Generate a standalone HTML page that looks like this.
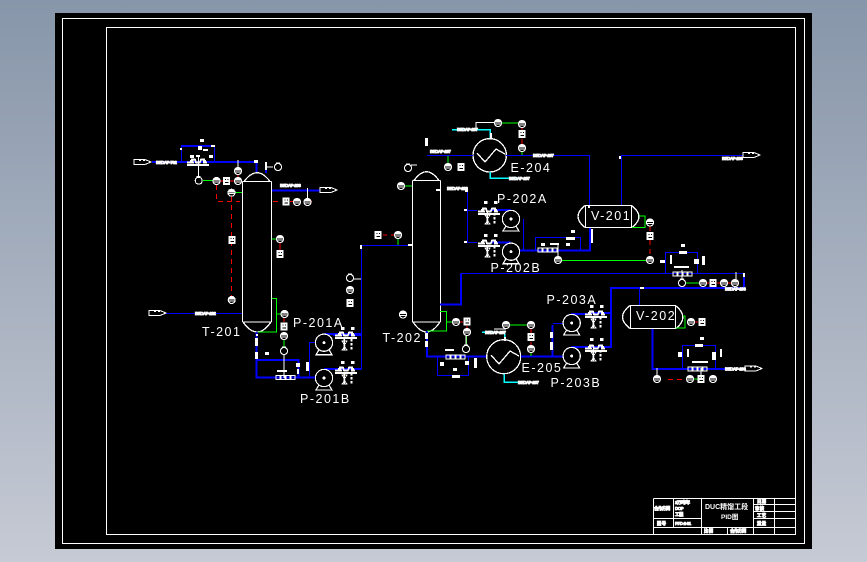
<!DOCTYPE html>
<html><head><meta charset="utf-8"><style>
html,body{margin:0;padding:0;width:867px;height:562px;overflow:hidden;background:#a5afbe}
svg{display:block}
.f{fill:none;stroke-width:1}
.w{stroke:#fff}.b{stroke:#0000ff}.bb{stroke:#0000ff;stroke-width:2}.g{stroke:#00ff00}.r{stroke:#ff0000}.c{stroke:#00ffff;stroke-width:1.5}
.d{stroke:#ff0000;stroke-dasharray:5 4;stroke-width:1}
text{font-family:"Liberation Sans","Noto Sans CJK SC",sans-serif;fill:#fff}
.t{font-size:12.5px;letter-spacing:1.5px}
.s{font-size:4.3px;font-weight:bold;stroke:#fff;stroke-width:.8;letter-spacing:-.35px}
</style></head><body>
<svg width="867" height="562" viewBox="0 0 867 562" xmlns="http://www.w3.org/2000/svg" shape-rendering="crispEdges">
<defs>
<linearGradient id="bg" x1="0" y1="0" x2="0" y2="1"><stop offset="0" stop-color="#8796aa"/><stop offset="1" stop-color="#c6cad4"/></linearGradient>
<g id="i"><circle r="3.5" fill="#000" stroke="#fff" stroke-width="1.1"/><path d="M-3 -.3H3V-3H-3Z" fill="#fff"/><path d="M-3.4 1H3.4" stroke="#fff"/></g>
<g id="o"><circle r="3.5" fill="#000" stroke="#fff" stroke-width="1.1"/><path d="M-2 -3.8H2" stroke="#fff" stroke-width="1.5"/></g>
<g id="x"><rect x="-3.5" y="-4" width="7" height="8" fill="#fff"/><path d="M-1.5 -1.5h.8M1 -1.5h.8M-1.5 1.5h3.3" stroke="#000"/></g>
<g id="v" fill="#fff"><path d="M0 1.5h6l-1-3h3l1 3h4l1-3h3v3h3M0 4h22" stroke="#fff" fill="none" stroke-width="1.6"/><rect x="3" y="-1" width="2" height="2"/><rect x="17" y="-1" width="2" height="2"/></g>
<g id="k" fill="#fff"><rect x="0" y="0" width="3.5" height="3"/><rect x="10" y="0" width="3.5" height="3"/><path d="M1 14h5l-3 5 3 4H1l3-4Z" stroke="#fff" stroke-width=".8" fill="none"/><rect x="2.5" y="11" width="1.6" height="12"/><rect x="9.5" y="12" width="2" height="2.5"/><rect x="9.5" y="16" width="2" height="2.5"/><rect x="9.5" y="20" width="2" height="2.5"/></g>
<g id="p"><circle r="8.6" fill="#000" stroke="#fff" stroke-width="1.2"/><path d="M-5 7L-8 12H8L5 7M-8 12H8" fill="none" stroke="#fff" stroke-width="1.2"/><circle r="1.5" fill="#fff"/></g>
<g id="a"><path d="M0 -2.5H11L17 0 11 2.5H0Z" fill="#000" stroke="#fff"/><path d="M5 -3h2v2h-2zM9 -3h2v2h-2z" fill="#fff"/></g>
<g id="n" stroke="#fff" fill="none"><rect x="0" y="-2" width="4" height="4"/><rect x="5" y="-2" width="4" height="4"/><rect x="10" y="-2" width="4" height="4"/><rect x="15" y="-2" width="4" height="4"/></g>
</defs>
<rect width="867" height="562" fill="url(#bg)"/>
<rect x="55" y="13" width="757" height="536" fill="#000"/>
<rect x="62.5" y="18.5" width="742" height="525" class="f w"/>
<rect x="106.5" y="27.5" width="689" height="507" class="f w"/>
<!-- title block -->
<g class="f w">
<path d="M653.5 498.5H795.5M653.5 498.5V534M673.5 498.5V527.5M701.5 498.5V534M753.5 498.5V534M774.5 498.5V534M653.5 518.5H701.5M653.5 527.5H795.5M753.5 504.5H795.5M753.5 511.5H795.5M753.5 518.5H795.5M727.5 527.5V534"/>
</g>
<text class="s" x="654" y="510">合作方同</text>
<text class="s" x="675" y="504">2万吨/年</text><text class="s" x="675" y="510">DOP</text><text class="s" x="675" y="516">工程</text>
<text class="s" x="657" y="525">图 号</text><text class="s" x="675" y="525">PFD-2-01</text>
<text x="705" y="509" style="font-size:7px;font-weight:bold">DUC精馏工段</text>
<text x="721" y="519" style="font-size:6.5px;font-weight:bold">PID图</text>
<text class="s" x="704" y="532.5">比 例</text><text class="s" x="730" y="532.5">合作方同</text>
<text class="s" x="757" y="503">日 期</text><text class="s" x="755" y="510">审 核</text><text class="s" x="757" y="517">工 艺</text><text class="s" x="757" y="525">重 量</text>
<!-- vessels -->
<g fill="none" stroke="#fff" stroke-width="1.3">
<path d="M242.5 181.5H271.5M242.5 181.5V322M271.5 181.5V322M242.5 322H271.5M244 181.5Q257 164 270 181.5M243 322Q257 342 271 322"/>
<path d="M412.5 180.5H440.5M412.5 180.5V322M440.5 180.5V322M412.5 322H440.5M414 180.5Q426.5 163 439 180.5M413 322Q426.5 342 440 322"/>
<circle cx="489.7" cy="155.3" r="16.7"/><circle cx="503.7" cy="356.7" r="17"/>
<path d="M477 153L485 162 496 149 505 154"/><path d="M491 355L499 364 510 351 519 356"/>
<rect x="585.5" y="205.5" width="46" height="22"/><path d="M585 205.5Q571 216.5 585 227.5M631.5 205.5Q646 216.5 632 227.5"/>
<rect x="630.5" y="305.5" width="45" height="23"/><path d="M630 305.5Q615 317 630 328.5M675.5 305.5Q690 317 676 328.5"/>
</g>
<!-- blue -->
<g class="f b">
<path d="M165 313.5H242"/>
<path d="M361.5 369V245.5H412"/><path d="M333 335.5H361.5M333 369.5H361.5"/>
<path d="M309.5 342V378H316M309.5 342.5H320"/>
<path d="M473 155.5H427"/><path d="M506 155.5H589.5V205"/>
<path d="M621.5 205V155.5H743"/>
<path d="M467.5 190V242.5M467.5 210.5H477M467.5 242.5H477"/>
<path d="M461 273.5H744"/>
<path d="M639.5 305V288"/>
<path d="M553 323.5H568"/><path d="M580 314.5H592M580 347.5H592"/>
<path d="M682.5 369V345.5H715.5V369"/>
<path d="M665.5 273V252.5H697.5V273"/>
<path d="M535.5 250V237.5H580.5V250"/>
<path d="M523.5 219V250"/><path d="M181.5 162V146H214.5V162"/>
<path d="M437.5 357V375.5H468.5V357"/>
</g>
<g class="f bb">
<path d="M152 162H256.5V172"/><path d="M272 190.5H320"/><path d="M266 163V173"/>
<path d="M256.5 332V377.5H315M256.5 360H298.5V377.5"/>
<path d="M181 146H214.5"/>
<path d="M427 331V356.7H486"/><path d="M521 356.7H570M552.7 356.7V325"/>
<path d="M461 273.5V304.5H440"/><path d="M744 273.5V288H611V347H590M611 313H590"/>
<path d="M652.5 329V369H725"/><path d="M514 250.5H590V228"/><path d="M490 210H511M490 242.5H511"/>
<path d="M324 334H361M324 369H361"/><path d="M571 314H590M571 347H590"/>
</g>
<!-- cyan -->
<g class="f c"><path d="M452 129.5H490V138"/><path d="M490 172V178H520"/><path d="M482 332H504.7V340"/><path d="M504 374V382H522"/></g>
<!-- green -->
<g class="f g" stroke-width="1.3">
<path d="M203 180.5H213"/><path d="M235 192.5H242"/><path d="M271.5 239H277"/><path d="M405 186H412"/>
<path d="M271.5 298.5H276.5V332H258"/><path d="M276.5 314H281"/><path d="M284 340V347"/>
<path d="M398 239V245"/><path d="M448 156V164"/><path d="M502 123H518"/><path d="M522 152V155"/>
<path d="M440 311.5H446.5V331H427M446.5 322H452"/><path d="M466.5 336V345"/>
<path d="M510 325H527"/><path d="M531 353V356"/>
<path d="M639 216H645V227.5H632"/><path d="M561 260.5H646"/><path d="M686 283H700"/>
<path d="M683 316H685V328H676"/><path d="M694 379H698"/>
</g>
<!-- red -->
<g class="f r"><path d="M219.5 181H223M230 181H235M238 175V178"/><path d="M312 201.5H304M294 201.5H290"/><path d="M280 243V250"/><path d="M284 318V322"/>
<path d="M383 235H387M391 235H395"/><path d="M522 128V130M522 139V144"/><path d="M460 322H463M467 326V328"/><path d="M531 329V333M531 342V345"/><path d="M707 283H709M717 283H721M728 283H732"/><path d="M695 322H698"/></g>
<g class="f d"><path d="M216.5 185V201.5H240"/><path d="M231.5 196V297"/><path d="M273 201.5H282"/><path d="M650 226V232M650 240V256"/><path d="M668 379.5H688"/></g>
<!-- white stems -->
<g class="f w"><path d="M198.5 155V177"/><path d="M238 160V167"/><path d="M273 167H266"/><path d="M307.5 188V198"/><path d="M284 355V378"/><path d="M350 279H361"/><path d="M476 122.7H495"/><path d="M476 122V130"/><path d="M466 345V336"/><path d="M417 165H411"/><path d="M558 245V256"/><path d="M682 270V279"/><path d="M736 272V279"/><path d="M657 368V375"/><path d="M701 368V375"/><path d="M506 329H494"/></g>
<!-- equipment -->
<use href="#p" x="324" y="342.7"/><use href="#p" x="324" y="378"/>
<use href="#p" x="511" y="219"/><use href="#p" x="511" y="251.7"/>
<use href="#p" x="571.7" y="323"/><use href="#p" x="571.7" y="356"/>
<!-- arrows -->
<use href="#a" x="134" y="162"/><use href="#a" x="320" y="190"/><use href="#a" x="149" y="313"/><use href="#a" x="743" y="155"/><use href="#a" x="745" y="368.5"/>
<!-- instruments -->
<use href="#o" x="198.7" y="180.7"/><use href="#i" x="216.5" y="181"/><use href="#x" x="226.5" y="181"/><use href="#i" x="238" y="181"/><use href="#i" x="238" y="171"/><use href="#i" x="231.5" y="192.7"/><use href="#x" x="232" y="240"/><use href="#i" x="231.7" y="300"/>
<use href="#o" x="278" y="167"/><use href="#x" x="286" y="201.5"/><use href="#i" x="297" y="202"/><use href="#i" x="307.5" y="202"/><use href="#i" x="280" y="239"/><use href="#x" x="280" y="254"/>
<use href="#i" x="284.5" y="314"/><use href="#x" x="284" y="326.5"/><use href="#i" x="284" y="336"/><use href="#o" x="284" y="351"/>
<use href="#o" x="350" y="278"/><use href="#i" x="350" y="290"/><use href="#x" x="350" y="303"/>
<use href="#x" x="378" y="235"/><use href="#i" x="398" y="235"/>
<use href="#o" x="408" y="168"/><use href="#i" x="401" y="186"/><use href="#i" x="448" y="167"/><use href="#x" x="461" y="167"/>
<use href="#i" x="498" y="123"/><use href="#i" x="522" y="124"/><use href="#x" x="522" y="134"/><use href="#i" x="522" y="148"/>
<use href="#i" x="403" y="314.5"/><use href="#i" x="456" y="322"/><use href="#x" x="467" y="321.5"/><use href="#i" x="467" y="332"/><use href="#o" x="466" y="349"/>
<use href="#i" x="506" y="325"/><use href="#i" x="531" y="325"/><use href="#x" x="531" y="337"/><use href="#i" x="531" y="349"/>
<use href="#i" x="650" y="222.5"/><use href="#x" x="650" y="236"/><use href="#i" x="650" y="260"/><use href="#i" x="558" y="260"/>
<use href="#o" x="682" y="283"/><use href="#i" x="703" y="283"/><use href="#x" x="713" y="283"/><use href="#i" x="724" y="283"/><use href="#i" x="735" y="283"/>
<use href="#i" x="691" y="322"/><use href="#x" x="702" y="322"/>
<use href="#i" x="657" y="379"/><use href="#i" x="690" y="379"/><use href="#x" x="701" y="379"/><use href="#i" x="713" y="379"/>
<!-- valve rows -->
<use href="#v" x="187" y="161"/><use href="#v" x="335" y="334"/><use href="#v" x="335" y="369"/><use href="#v" x="478" y="210"/><use href="#v" x="478" y="242"/><use href="#v" x="585" y="313"/><use href="#v" x="585" y="347"/>
<use href="#k" x="341" y="327"/><use href="#k" x="341" y="361"/><use href="#k" x="484" y="201"/><use href="#k" x="484" y="234"/><use href="#k" x="590" y="305"/><use href="#k" x="590" y="338"/>
<use href="#n" x="538" y="250"/><use href="#n" x="673" y="274"/><use href="#n" x="688" y="369"/><use href="#n" x="446" y="357"/><use href="#n" x="276" y="377.5"/>
<g fill="#fff">
<rect x="200" y="139" width="4" height="3"/><rect x="190" y="155" width="4" height="3"/><rect x="209" y="155" width="4" height="3"/><rect x="198" y="146" width="4" height="4"/>
<rect x="203" y="149" width="5" height="2"/><rect x="196" y="155" width="4" height="2"/>
<rect x="180" y="148" width="2" height="2"/><rect x="211" y="145" width="4" height="2"/>
<rect x="254" y="160" width="4" height="3"/><rect x="265" y="162" width="2" height="8"/><rect x="255" y="338" width="3" height="8"/><rect x="255" y="352" width="3" height="7"/><rect x="256" y="334" width="2" height="2"/>
<rect x="265" y="352" width="4" height="3"/><rect x="296" y="363" width="4" height="4"/><rect x="297" y="369" width="2" height="5"/><rect x="306" y="362" width="3" height="9"/>
<rect x="277" y="370" width="10" height="2"/>
<rect x="425" y="333" width="3" height="6"/><rect x="425" y="341" width="3" height="6"/><rect x="440" y="362" width="4" height="4"/><rect x="465" y="361" width="4" height="4"/><rect x="474" y="358" width="3" height="10"/><rect x="453" y="368" width="4" height="3"/><rect x="452" y="375" width="8" height="3"/>
<rect x="445" y="349" width="9" height="2"/><rect x="550" y="332" width="3" height="6"/><rect x="550" y="342" width="3" height="8"/>
<rect x="591" y="229" width="2" height="14"/><rect x="588" y="205" width="2" height="3"/><rect x="571" y="230" width="4" height="3"/><rect x="566" y="237" width="9" height="3"/><rect x="541" y="243" width="4" height="3"/><rect x="550" y="243" width="9" height="2"/><rect x="566" y="243" width="4" height="3"/>
<rect x="681" y="244" width="4" height="3"/><rect x="679" y="251" width="8" height="3"/><rect x="670" y="255" width="2" height="9"/><rect x="694" y="259" width="5" height="5"/><rect x="702" y="256" width="3" height="9"/><rect x="660" y="260" width="5" height="3"/><rect x="674" y="266" width="15" height="2"/>
<rect x="700" y="337" width="4" height="3"/><rect x="695" y="344" width="8" height="3"/><rect x="678" y="352" width="4" height="5"/><rect x="687" y="349" width="2" height="8"/><rect x="712" y="352" width="4" height="8"/><rect x="720" y="349" width="2" height="8"/><rect x="692" y="361" width="16" height="2"/>
<rect x="619" y="156" width="2" height="3"/><rect x="640" y="287" width="4" height="2"/><rect x="743" y="273" width="2" height="4"/>
<rect x="436" y="189" width="5" height="2"/><rect x="465" y="189" width="3" height="3"/><rect x="464" y="209" width="3" height="2"/><rect x="464" y="241" width="3" height="2"/>
<rect x="360" y="245" width="2" height="4"/><rect x="408" y="244" width="4" height="2"/>
<rect x="425" y="138" width="3" height="8"/><rect x="490" y="133" width="2" height="5"/><rect x="504" y="337" width="2" height="4"/>
</g>
<!-- small labels -->
<text class="s" x="156" y="164">BEDAP-702</text><text class="s" x="280" y="187">BEDAP-203</text><text class="s" x="195" y="315">BEDAP-202</text>
<text class="s" x="430" y="153">BEDAP-207</text><text class="s" x="447" y="190">BEDAP-203</text><text class="s" x="533" y="157">BEDAP-207</text><text class="s" x="457" y="131">BEDAP-207</text><text class="s" x="509" y="180">BEDAP-207</text>
<text class="s" x="722" y="160">BEDAP-203</text><text class="s" x="725" y="290.5">BEDAP-203</text><text class="s" x="725" y="370.5">BEDAP-203</text>
<text class="s" x="485" y="334">BEDAP-207</text><text class="s" x="518" y="384">BEDAP-207</text>
<!-- tags -->
<text class="t" x="202" y="336">T-201</text>
<text class="t" x="293" y="327">P-201A</text>
<text class="t" x="300" y="403">P-201B</text>
<text class="t" x="382.5" y="342">T-202</text>
<text class="t" x="510.5" y="172">E-204</text>
<text class="t" x="497" y="203">P-202A</text>
<text class="t" x="490.5" y="272">P-202B</text>
<text class="t" x="521.5" y="372">E-205</text>
<text class="t" x="546.5" y="304">P-203A</text>
<text class="t" x="550.5" y="387">P-203B</text>
<text class="t" x="591" y="220">V-201</text>
<text class="t" x="636" y="320">V-202</text>
</svg>
</body></html>
